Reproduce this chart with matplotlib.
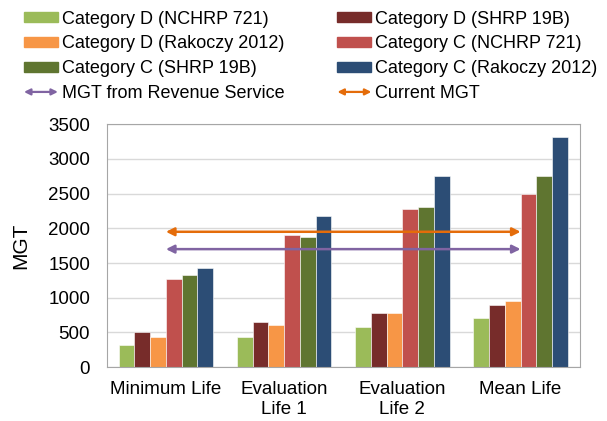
import matplotlib
matplotlib.use("Agg")
import matplotlib.pyplot as plt
from matplotlib.patches import Patch, FancyArrowPatch
from matplotlib.legend_handler import HandlerBase
import numpy as np

plt.rcParams['font.family'] = ['Liberation Sans', 'DejaVu Sans']

categories = ["Minimum Life", "Evaluation\nLife 1", "Evaluation\nLife 2", "Mean Life"]
series_names = ["Category D (NCHRP 721)", "Category D (SHRP 19B)",
                "Category D (Rakoczy 2012)", "Category C (NCHRP 721)",
                "Category C (SHRP 19B)", "Category C (Rakoczy 2012)"]
d_nchrp = [316, 441, 580, 710]
d_shrp = [508, 647, 786, 901]
d_rak = [427, 604, 786, 949]
c_nchrp = [1275, 1899, 2282, 2493]
c_shrp = [1323, 1870, 2311, 2752]
c_rak = [1424, 2177, 2752, 3318]
series_values = [d_nchrp, d_shrp, d_rak, c_nchrp, c_shrp, c_rak]
colors = ["#9BBB59", "#772C2A", "#F79646", "#C0504D", "#5F7530", "#2C4D75"]

revenue_mgt = 1700
current_mgt = 1950


class ArrowHandler(HandlerBase):
    def create_artists(self, legend, orig_handle, xdescent, ydescent,
                       width, height, fontsize, trans):
        y = height / 2 - ydescent
        a = FancyArrowPatch((-xdescent, y), (width - xdescent, y),
                            arrowstyle='<|-|>', mutation_scale=9,
                            color=orig_handle.get_facecolor(), lw=1.6,
                            transform=trans, shrinkA=0, shrinkB=0)
        return [a]


fig = plt.figure(figsize=(6.07, 4.21), dpi=100)
ax = fig.add_axes([0.176, 0.128, 0.779, 0.577])

x = np.arange(len(categories))
w = 0.133
for i, vals in enumerate(series_values):
    ax.bar(x + (i - 2.5) * w, vals, w, color=colors[i], edgecolor='white',
           linewidth=0.4, zorder=2)

ax.annotate('', xy=(x[-1], current_mgt), xytext=(x[0], current_mgt),
            arrowprops=dict(arrowstyle='<|-|>', color='#E46C0A', lw=1.8,
                            mutation_scale=12, shrinkA=0, shrinkB=0), zorder=3)
ax.annotate('', xy=(x[-1], revenue_mgt), xytext=(x[0], revenue_mgt),
            arrowprops=dict(arrowstyle='<|-|>', color='#8064A2', lw=1.8,
                            mutation_scale=12, shrinkA=0, shrinkB=0), zorder=3)

ax.set_xlim(-0.5, 3.5)
ax.set_ylim(0, 3500)
ax.set_yticks(range(0, 3501, 500))
ax.set_xticks(x)
ax.set_xticklabels(categories, fontsize=13.5)
ax.tick_params(axis='y', labelsize=13.5, length=0, pad=12)
ax.tick_params(axis='x', length=0, pad=10)
ax.grid(axis='y', color='#D9D9D9', lw=1, zorder=0)
ax.set_axisbelow(True)
for s in ax.spines.values():
    s.set_color('#A6A6A6')
ax.set_ylabel("MGT", fontsize=15, labelpad=13)

handles = [Patch(color=c) for c in colors]
handles += [Patch(color='#8064A2'), Patch(color='#E46C0A')]
labels = series_names + ["MGT from Revenue Service", "Current MGT"]
order = [0, 2, 4, 6, 1, 3, 5, 7]
fig.legend([handles[i] for i in order], [labels[i] for i in order],
           ncol=2, loc='upper left', bbox_to_anchor=(0.0395, 0.975),
           frameon=False, fontsize=13.0, handlelength=1.88, handleheight=0.45,
           handletextpad=0.2, columnspacing=2.95, labelspacing=0.44,
           borderpad=0, borderaxespad=0,
           handler_map={handles[6]: ArrowHandler(), handles[7]: ArrowHandler()})

fig.savefig("out.png", dpi=100)
